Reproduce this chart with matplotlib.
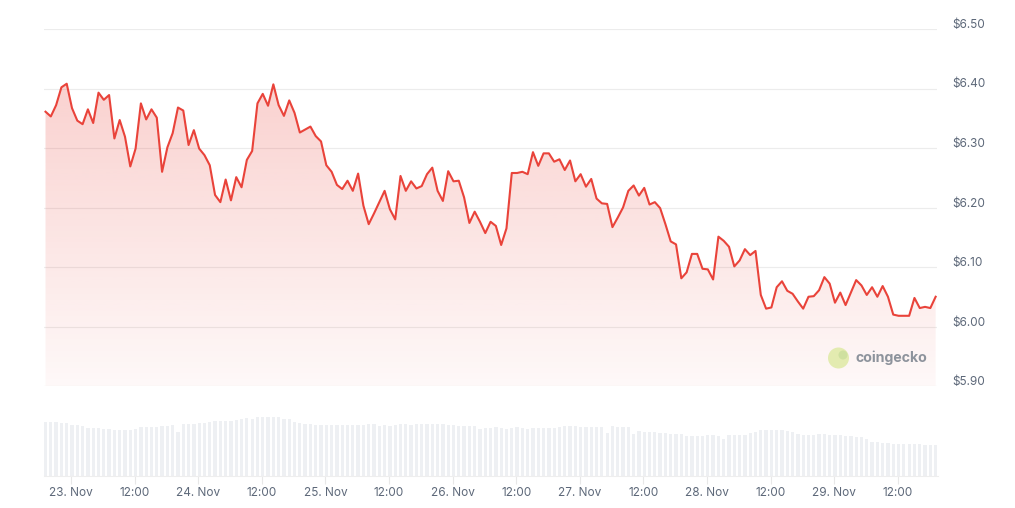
import numpy as np
import pandas as pd
import matplotlib
matplotlib.use('Agg')
import matplotlib.pyplot as plt
import matplotlib.dates as mdates
from matplotlib.patches import Ellipse
from matplotlib.transforms import ScaledTranslation

plt.rcParams['font.family'] = ['Inter', 'DejaVu Sans']

# hourly price (USD), 22 Nov 19:10 -> 29 Nov 19:10
prices = [
    6.361, 6.353, 6.372, 6.402, 6.408, 6.367, 6.346, 6.340, 6.365, 6.342,
    6.393, 6.381, 6.389, 6.316, 6.347, 6.319, 6.269, 6.299, 6.375, 6.348,
    6.365, 6.351, 6.260, 6.301, 6.325, 6.368, 6.363, 6.305,
    6.330, 6.299, 6.288, 6.271, 6.221, 6.209, 6.247, 6.212, 6.251, 6.234,
    6.280, 6.295, 6.375, 6.391, 6.371, 6.407, 6.372, 6.354, 6.380, 6.359,
    6.326, 6.331, 6.336, 6.320, 6.311, 6.271,
    6.260, 6.238, 6.231, 6.245, 6.228, 6.257, 6.203, 6.172, 6.190, 6.209,
    6.228, 6.197, 6.180, 6.253, 6.228, 6.244, 6.232, 6.236, 6.256, 6.267,
    6.228, 6.211, 6.261, 6.244, 6.245, 6.217, 6.174, 6.193,
    6.176, 6.157, 6.176, 6.169, 6.137, 6.165, 6.258, 6.258, 6.260, 6.256,
    6.293, 6.270, 6.291, 6.291, 6.277, 6.281, 6.263, 6.279, 6.244, 6.256,
    6.235, 6.248, 6.215, 6.207, 6.206, 6.167, 6.183, 6.200,
    6.228, 6.237, 6.220, 6.233, 6.205, 6.209, 6.199, 6.172, 6.143, 6.138,
    6.081, 6.091, 6.122, 6.122, 6.097, 6.096, 6.079, 6.151, 6.144, 6.134,
    6.101, 6.111, 6.130, 6.120, 6.127, 6.053, 6.030,
    6.032, 6.066, 6.076, 6.060, 6.055, 6.042, 6.030, 6.050, 6.051, 6.061,
    6.083, 6.072, 6.040, 6.057, 6.036, 6.057, 6.078, 6.069, 6.053, 6.066,
    6.050, 6.068, 6.050, 6.020, 6.018, 6.018, 6.018, 6.048, 6.031, 6.033,
    6.031, 6.050,
]

# hourly volume (relative units)
volumes = [
    161, 162, 161, 160, 158, 153, 153, 150, 145, 143, 143, 142,
    140, 138, 138, 139, 139, 141, 146, 147, 147, 148, 149, 150, 152,
    133, 155, 156, 156, 158, 158, 162, 165, 165, 164, 166,
    169, 171, 173, 172, 176, 177, 178, 178, 176, 171, 170, 162, 160,
    157, 155, 154, 154, 153, 153, 152, 154, 153, 152, 152, 153,
    155, 155, 151, 152, 151, 152, 155, 155, 154, 155, 155, 156, 155,
    155, 155, 154, 152, 150, 150, 149, 149, 142,
    144, 145, 146, 145, 142, 145, 146, 143, 142, 145, 143, 143, 143, 145,
    147, 149, 150, 150, 148, 148, 148, 148, 147, 130, 150, 148, 148, 146,
    125, 136, 133, 131, 131, 129, 128, 127, 127, 126,
    121, 121, 121, 121, 123, 123, 121, 110, 122, 122, 124, 124, 128,
    133, 137, 138, 138, 138, 137, 136, 131,
    125, 122, 122, 122, 125, 125, 122, 124, 122, 120, 119, 117, 116, 112,
    103, 101, 100, 100, 97, 97, 97, 97, 97, 96, 93, 93, 92,
]

y_ticks = [5.90, 6.00, 6.10, 6.20, 6.30, 6.40, 6.50]
y_labels = ['$5.90', '$6.00', '$6.10', '$6.20', '$6.30', '$6.40', '$6.50']
x_ticks = pd.date_range('2024-11-23 00:00', '2024-11-29 12:00', freq='12h')
x_labels = ['23. Nov', '12:00', '24. Nov', '12:00', '25. Nov', '12:00', '26. Nov',
            '12:00', '27. Nov', '12:00', '28. Nov', '12:00', '29. Nov', '12:00']

times = pd.date_range('2024-11-22 19:10', periods=len(prices), freq='h')
t = mdates.date2num(times.to_pydatetime())
x0 = t[0] - 0.38 / 24
x1 = t[-1] + 0.35 / 24

red = '#e9433a'
txt = '#5d6879'
W, H = 1015, 508

fig = plt.figure(figsize=(W / 100, H / 100), dpi=100)
ax = fig.add_axes([43.5 / W, 1 - 386 / H, (937.5 - 43.5) / W, (386 - 29) / H])
axv = fig.add_axes([43.5 / W, 1 - 476 / H, (937.5 - 43.5) / W, 60 / H])

# price: gradient area + line
poly = ax.fill_between(t, prices, 5.90, color='none', lw=0)
grad = np.zeros((256, 1, 4))
grad[..., :3] = matplotlib.colors.to_rgb(red)
grad[..., 3] = np.linspace(0.28, 0.035, 256)[:, None]
im = ax.imshow(grad, extent=[x0, x1, 5.90, 6.50], aspect='auto', origin='upper', zorder=1)
im.set_clip_path(poly.get_paths()[0], transform=ax.transData)
ax.plot(t, prices, color=red, lw=1.5, zorder=3, solid_joinstyle='round')

ax.set_xlim(x0, x1)
ax.set_ylim(5.90, 6.50)
ax.set_yticks(y_ticks)
ax.set_yticklabels(y_labels)
ax.yaxis.tick_right()
ax.tick_params(axis='y', length=0, pad=11, labelsize=8.5, labelcolor=txt)
ax.set_xticks([])
ax.grid(axis='y', color='#ececec', lw=0.8)
ax.set_axisbelow(True)
for s in ax.spines.values():
    s.set_visible(False)
off = ScaledTranslation(0, 5.5 / 100, fig.dpi_scale_trans)
for lab in ax.get_yticklabels():
    lab.set_transform(lab.get_transform() + off)
    lab.set_horizontalalignment('left')

# volume bars
axv.bar(t, volumes, width=0.62 / 24, color='#eef0f3', lw=0)
axv.set_xlim(x0, x1)
axv.set_ylim(0, 180)
axv.set_yticks([])
axv.set_xticks(mdates.date2num(x_ticks.to_pydatetime()))
axv.set_xticklabels(x_labels)
axv.tick_params(axis='x', length=6, width=0.8, color='#e8e8e8', pad=2,
                labelsize=8.5, labelcolor=txt)
for k, s in axv.spines.items():
    s.set_visible(k == 'bottom')
axv.spines['bottom'].set_color('#eeeeee')
axv.spines['bottom'].set_linewidth(0.8)
axv.patch.set_alpha(0)

# coingecko watermark
fig.add_artist(Ellipse((838.5 / W, 1 - 358 / H), 21 / W, 21 / H,
                       transform=fig.transFigure, color='#e3ebb0', lw=0))
fig.add_artist(Ellipse((843 / W, 1 - 355 / H), 9 / W, 9 / H,
                       transform=fig.transFigure, color='#cfe0a0', lw=0))
fig.text(856 / W, 1 - 358 / H, 'coingecko', fontsize=10.2, fontweight='bold',
         color='#8d939c', va='center', ha='left')

fig.savefig('out.png', dpi=100)
